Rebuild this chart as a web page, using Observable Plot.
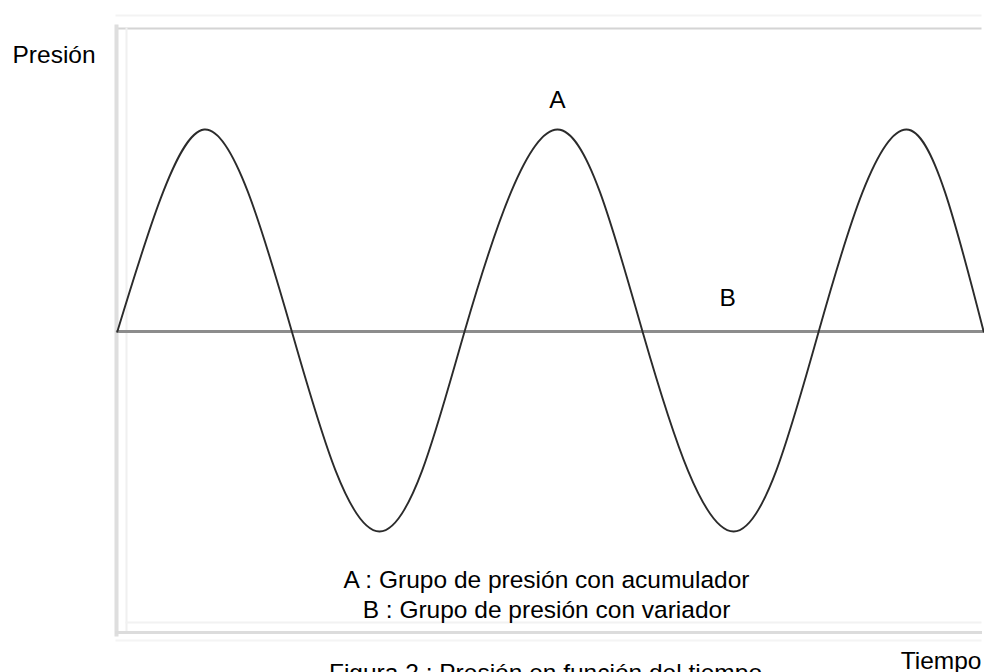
<!DOCTYPE html>
<html>
<head>
<meta charset="utf-8">
<script src="https://cdn.jsdelivr.net/npm/d3@7"></script>
<script src="https://cdn.jsdelivr.net/npm/@observablehq/plot@0.6"></script>
<style>
  html, body { margin: 0; padding: 0; background: #fff; }
  svg { display: block; }
</style>
</head>
<body>
<div id="chart"></div>
<script>
// Curve A (pressure group with accumulator): time vs pressure
const timesA = [0.1, 5.1, 10.1, 15.15, 20.2, 25.25, 30.3, 35.2, 40.1, 45.45, 50.8, 55.7, 60.6, 65.85, 71.1, 76.0, 80.9, 85.95, 91.0, 95.45, 99.9];
const pressureA = [0, 0.66, 1.0, 0.69, 0, -0.69, -0.99, -0.69, 0, 0.69, 1.0, 0.69, 0, -0.69, -0.99, -0.69, 0, 0.69, 1.0, 0.69, 0];
// Curve B (pressure group with variable speed drive): constant pressure
const timesB = [0.1, 100];
const pressureB = [0, 0];

// Texts
const yLabel = "Presión";
const xLabel = "Tiempo";
const legendLines = ["A : Grupo de presión con acumulador", "B : Grupo de presión con variador"];
const caption = "Figura 2 : Presión en función del tiempo";
const labelA = {t: 50.8, p: 1.0, text: "A"};
const labelB = {t: 70.4, p: 0, text: "B"};

const dataA = timesA.map((t, i) => ({t, p: pressureA[i]}));
const dataB = timesB.map((t, i) => ({t, p: pressureB[i]}));

const font = 24.5;

const chart = Plot.plot({
  width: 984,
  height: 672,
  marginLeft: 116,
  marginRight: 0,
  marginTop: 28,
  marginBottom: 40,
  x: {domain: [0, 100], axis: null},
  y: {domain: [-1.49, 1.5], axis: null},
  style: {fontFamily: "'Liberation Sans', Arial, sans-serif", background: "#fff", color: "#000"},
  marks: [
    // beveled frame
    Plot.frame({anchor: "top", stroke: "#f3f3f3", strokeWidth: 2, insetTop: -13, insetRight: 4}),
    Plot.frame({anchor: "top", stroke: "#d4d4d4", strokeWidth: 2, insetRight: 4}),
    Plot.frame({anchor: "left", stroke: "#dedede", strokeWidth: 4, insetTop: -2, insetBottom: -2}),
    Plot.frame({anchor: "left", stroke: "#f0f0f0", strokeWidth: 2, insetLeft: 10}),
    Plot.frame({anchor: "bottom", stroke: "#f2f2f2", strokeWidth: 2, insetBottom: 10, insetLeft: 10, insetRight: 4}),
    Plot.frame({anchor: "bottom", stroke: "#dcdcdc", strokeWidth: 3, insetRight: 4}),
    Plot.frame({anchor: "bottom", stroke: "#f4f4f4", strokeWidth: 2, insetBottom: -8, insetRight: 4}),
    // B line
    Plot.line(dataB, {x: "t", y: "p", stroke: "#8c8c8c", strokeWidth: 3}),
    // A curve
    Plot.line(dataA, {x: "t", y: "p", stroke: "#2b2b2b", strokeWidth: 1.9, curve: "natural"}),
    // curve labels
    Plot.text([labelA], {x: "t", y: "p", text: "text", dy: -22, lineAnchor: "bottom", fontSize: font, fill: "#000"}),
    Plot.text([labelB], {x: "t", y: "p", text: "text", dy: -26, lineAnchor: "bottom", fontSize: font, fill: "#000"}),
    // legend
    Plot.text([legendLines.join("\n")], {frameAnchor: "bottom", dx: -4, dy: -66, lineAnchor: "top", lineHeight: 1.22, fontSize: font, fill: "#000"}),
    // axis labels
    Plot.text([yLabel], {frameAnchor: "top-left", textAnchor: "start", lineAnchor: "bottom", dx: -104, dy: 34, fontSize: font, fill: "#000"}),
    Plot.text([xLabel], {frameAnchor: "bottom-right", textAnchor: "end", lineAnchor: "bottom", dx: -3, dy: 36, fontSize: font, fill: "#000"}),
    // caption (cut by the bottom edge, as in the reference)
    Plot.text([caption], {frameAnchor: "bottom", lineAnchor: "bottom", dx: -5, dy: 48, fontSize: font, fill: "#000"})
  ]
});
document.getElementById("chart").appendChild(chart);
</script>
</body>
</html>
